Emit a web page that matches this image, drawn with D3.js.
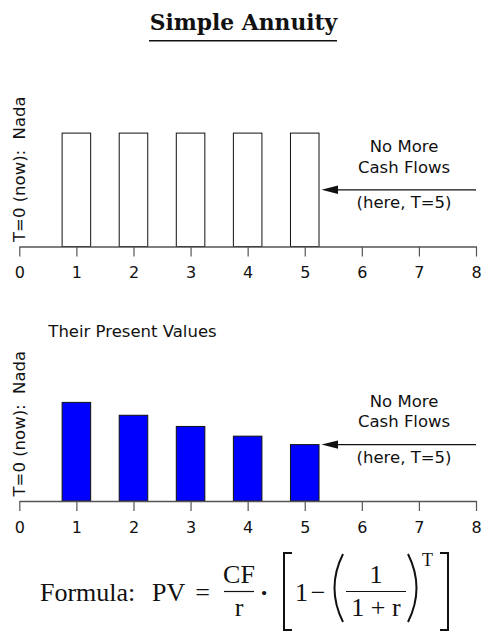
<!DOCTYPE html>
<html>
<head>
<meta charset="utf-8">
<script src="https://cdn.jsdelivr.net/npm/d3@7"></script>
<style>
  body { margin: 0; background: #fff; }
  svg { display: block; }
  .sans { font-family: "DejaVu Sans", sans-serif; fill: #111; }
  .serif { font-family: "Liberation Serif", serif; fill: #111; }
</style>
</head>
<body>
<div id="chart"></div>
<script>
// periods and values
const periods = [1, 2, 3, 4, 5];
const cashFlows = [100, 100, 100, 100, 100];
const presentValues = [86.96, 75.61, 65.75, 57.18, 49.72];
const xTicks = [0, 1, 2, 3, 4, 5, 6, 7, 8];
const noteLines = ["No More", "Cash Flows", "(here, T=5)"];
const lastPeriod = 5;

const width = 490, height = 632;

const svg = d3.select("#chart")
  .append("svg")
  .attr("width", width)
  .attr("height", height);

// shared scales: x in periods, y in value units (height measured upward from axis)
const x = d3.scaleLinear().domain([0, 8]).range([19.3, 476]);
const y = d3.scaleLinear().domain([0, 100]).range([0, -113.4]);

// title
svg.append("text")
  .attr("class", "serif")
  .attr("x", 243.5)
  .attr("y", 30)
  .attr("text-anchor", "middle")
  .style("font-family", "'DejaVu Serif', serif")
  .style("font-weight", "bold")
  .style("font-size", "21.8px")
  .text("Simple Annuity");

svg.append("line")
  .attr("x1", 149).attr("x2", 337)
  .attr("y1", 40.7).attr("y2", 40.7)
  .attr("stroke", "#111")
  .attr("stroke-width", 1.5);

const panels = [
  { axisY: 246.5, values: cashFlows, fill: "#ffffff", arrowValue: 50 },
  { axisY: 501, values: presentValues, fill: "#0000ff", arrowValue: presentValues[4] }
];

panels.forEach(function(p) {
  const g = svg.append("g").attr("transform", `translate(0, ${p.axisY})`);

  // bars, half a period wide
  g.selectAll("rect")
    .data(periods)
    .enter()
    .append("rect")
    .attr("x", (d) => x(d - 0.25))
    .attr("width", (d) => x(d + 0.25) - x(d - 0.25))
    .attr("y", (d, i) => y(p.values[i]))
    .attr("height", (d, i) => -y(p.values[i]))
    .attr("fill", p.fill)
    .attr("stroke", "#111")
    .attr("stroke-width", 1);

  // x axis
  const axis = g.append("g")
    .call(d3.axisBottom(x).tickValues(xTicks).tickSize(10).tickSizeOuter(0));
  axis.select(".domain").attr("stroke", "#555").attr("stroke-width", 1.4);
  axis.selectAll(".tick line").attr("stroke", "#555").attr("stroke-width", 1.2);
  axis.selectAll(".tick text")
    .attr("class", "sans")
    .attr("y", 31.8)
    .attr("dy", 0)
    .style("font-size", "16px")
    .style("font-family", "'DejaVu Sans', sans-serif")
    .attr("fill", "#111");

  // rotated y label
  g.append("text")
    .attr("class", "sans")
    .attr("transform", "rotate(-90)")
    .attr("x", 4.5)
    .attr("y", 25)
    .style("font-size", "16.5px")
    .style("white-space", "pre")
    .text("T=0 (now):  Nada");

  // arrow pointing at the last cash flow
  const ay = y(p.arrowValue);
  const tip = x(lastPeriod + 0.25) + 2.5;
  g.append("line")
    .attr("x1", x(8)).attr("x2", tip + 10)
    .attr("y1", ay).attr("y2", ay)
    .attr("stroke", "#111")
    .attr("stroke-width", 1.2);
  g.append("path")
    .attr("d", `M${tip},${ay} L${tip + 16.5},${ay - 4.2} L${tip + 16.5},${ay + 4.2} Z`)
    .attr("fill", "#111");

  // note text around the arrow
  const noteX = x(6.74);
  const offsets = [-38, -17.3, 18];
  g.selectAll("text.note")
    .data(noteLines)
    .enter()
    .append("text")
    .attr("class", "sans note")
    .attr("x", noteX)
    .attr("y", (d, i) => ay + offsets[i])
    .attr("text-anchor", "middle")
    .style("font-size", "16.5px")
    .text((d) => d);
});

svg.append("text")
  .attr("class", "sans")
  .attr("x", 48.3)
  .attr("y", 337.3)
  .style("font-size", "16.5px")
  .text("Their Present Values");

// formula
const f = svg.append("g").attr("class", "serif").style("font-size", "26px");
const base = 601;

f.append("text").attr("x", 40).attr("y", base).text("Formula:");
f.append("text").attr("x", 152).attr("y", base).text("PV");
f.append("text").attr("x", 202.5).attr("y", base).attr("text-anchor", "middle").text("=");

function fraction(cx, x1, x2, num, den) {
  f.append("line")
    .attr("x1", x1).attr("x2", x2)
    .attr("y1", 591.5).attr("y2", 591.5)
    .attr("stroke", "#111").attr("stroke-width", 1.2);
  f.append("text").attr("x", cx).attr("y", 583).attr("text-anchor", "middle").text(num);
  f.append("text").attr("x", cx).attr("y", 616).attr("text-anchor", "middle").text(den);
}

fraction(239, 224, 254, "CF", "r");
f.append("text").attr("x", 264).attr("y", base).attr("text-anchor", "middle")
  .style("font-weight", "bold").text("·");

// square brackets and parentheses
f.append("path")
  .attr("d", "M292,553 L284,553 L284,630 L292,630")
  .attr("fill", "none").attr("stroke", "#111").attr("stroke-width", 2);
f.append("path")
  .attr("d", "M440,553 L448,553 L448,630 L440,630")
  .attr("fill", "none").attr("stroke", "#111").attr("stroke-width", 2);

f.append("text").attr("x", 295).attr("y", base).text("1");
f.append("text").attr("x", 318).attr("y", base).attr("text-anchor", "middle").text("−");

f.append("path")
  .attr("d", "M343,554 Q326,588 343,622")
  .attr("fill", "none").attr("stroke", "#111").attr("stroke-width", 2);
f.append("path")
  .attr("d", "M408,554 Q425,588 408,622")
  .attr("fill", "none").attr("stroke", "#111").attr("stroke-width", 2);

fraction(376, 346, 406, "1", "1 + r");

f.append("text")
  .attr("x", 422)
  .attr("y", 566)
  .style("font-size", "18px")
  .text("T");
</script>
</body>
</html>
